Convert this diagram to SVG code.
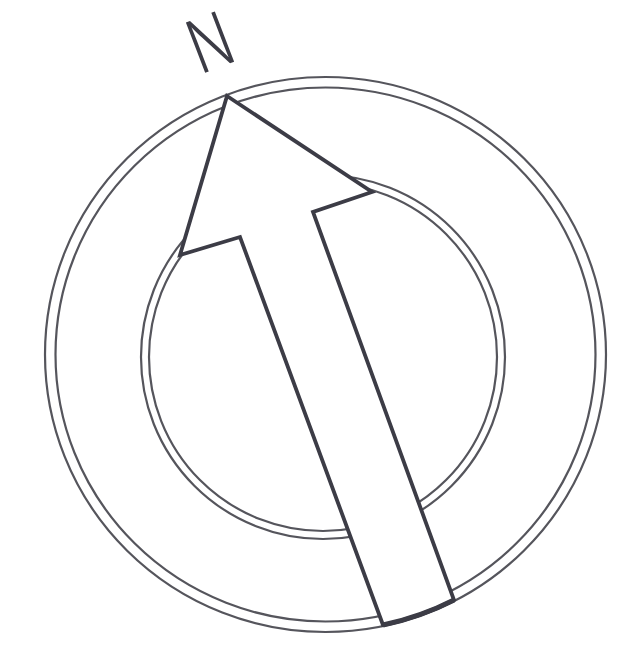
<svg xmlns="http://www.w3.org/2000/svg" width="629" height="653" viewBox="0 0 629 653">
<style>
.ring{fill:none;stroke:#55555c;stroke-width:2.2}
.arrow{fill:#fff;stroke:#3c3c46;stroke-width:3.8;stroke-linejoin:miter}
.base{fill:none;stroke:#3c3c46;stroke-width:5}
.lbl{font-family:Inter,"Noto Sans",sans-serif;font-weight:300;font-size:74px;fill:#3c3c46}
</style>
<rect width="629" height="653" fill="#fff"/>
<g id="outer-ring">
<ellipse class="ring" cx="325.5" cy="354.5" rx="280.5" ry="277.5"/>
<ellipse class="ring" cx="325.5" cy="354.5" rx="270" ry="267"/>
</g>
<g id="inner-ring">
<circle class="ring" cx="323" cy="357" r="182"/>
<circle class="ring" cx="323" cy="357" r="174"/>
</g>
<g id="arrow">
<path class="arrow" d="M227,96 L372,192 L313,212 L454,600 A280.5,277.5 0 0 1 383,625 L240,237 L180,255 Z"/>
<path class="base" d="M454,600 A280.5,277.5 0 0 1 383,625"/>
</g>
<g id="north">
<text class="lbl" transform="translate(210,42) rotate(-21) scale(0.74,1)" x="0" y="27" text-anchor="middle">N</text>
</g>
</svg>
